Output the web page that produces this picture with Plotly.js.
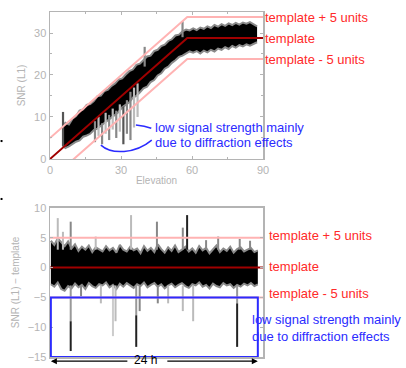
<!DOCTYPE html>
<html><head><meta charset="utf-8">
<script src="https://cdn.plot.ly/plotly-3.0.1.min.js"></script>
<style>html,body{margin:0;padding:0;background:#fff}#c{width:406px;height:368px}</style>
</head><body><div id="c"></div>
<script>
// ---------- top panel: SNR vs elevation ----------
const templateElev = [0, 58, 90];
const templateSNR = [0, 28.8, 28.8];
const templatePlus = [5, 33.8, 33.8];
const templateMinus = [-5, 23.8, 23.8];

const cloudElev = [5.5,6.5,8,9.5,11,12.5,14,15.5,17,18.5,20,21.5,23,24.5,26,27.5,29,30.5,32,33.5,35,36.5,38,39.5,41,42.5,44,45.5,47,48.5,50,51.5,53,54.5,56,57.5,59,60.5,62,63.5,65,66.5,68,69.5,71,72.5,74,75.5,77,78.5,80,81.5,83,84.5,86,87.5];
const cloudLo = [3.2,2.6,3.0,3.6,4.1,4.4,5.3,5.6,6.0,6.9,7.2,7.9,8.6,9.1,9.8,10.6,11.2,12.3,12.8,13.5,14.6,15.0,15.9,16.8,17.2,18.3,18.8,19.9,20.4,21.5,22.0,22.9,23.5,24.3,24.6,25.1,25.6,25.3,25.7,25.1,25.8,25.4,26.0,25.6,26.3,26.0,26.6,26.2,26.9,26.5,27.1,26.8,27.3,27.0,27.5,27.8];
const cloudHi = [7.9,8.6,8.2,9.6,10.2,11.5,11.8,12.9,13.1,13.8,14.9,15.1,16.2,16.5,17.4,18.0,18.9,19.2,20.1,20.9,21.3,22.4,22.7,23.6,24.4,24.6,25.7,26.0,26.9,27.2,28.1,28.5,29.4,29.6,30.4,30.8,30.6,31.1,30.7,31.3,31.0,31.6,31.2,31.9,31.5,32.1,31.7,32.3,31.9,32.4,32.0,32.5,32.2,32.6,32.1,31.6];

// scattered streaks (low signal / outliers): elevation, low, high, shade
const streakElev = [5.5,19,20.5,22,23.5,25,26.5,28,29.5,31,32.5,34,35.5,37,40,56];
const streakLo   = [3.0,4.0,5.5,3.5,6.0,4.5,7.0,5.0,6.5,3.5,6.0,4.5,7.5,10.0,22.0,29.0];
const streakHi   = [11.2,9.0,10.0,8.5,11.0,10.5,12.0,11.5,13.0,12.5,14.0,16.0,17.0,18.0,26.7,32.8];
const streakShade= ['#555','#888','#bbb','#888','#bbb','#888','#bbb','#888','#bbb','#555','#888','#888','#bbb','#bbb','#888','#888'];

// ---------- bottom panel: SNR - template vs time ----------
const timeH = [0,0.4,0.8,1.2,1.6,2,2.4,2.8,3.2,3.6,4,4.4,4.8,5.2,5.6,6,6.4,6.8,7.2,7.6,8,8.4,8.8,9.2,9.6,10,10.4,10.8,11.2,11.6,12,12.4,12.8,13.2,13.6,14,14.4,14.8,15.2,15.6,16,16.4,16.8,17.2,17.6,18,18.4,18.8,19.2,19.6,20,20.4,20.8,21.2,21.6,22,22.4,22.8,23.2,23.6,24];
const resHi = [4.5,3.8,4.9,4.2,3.6,4.4,3.2,3.9,2.8,3.5,3.0,3.7,2.6,3.4,3.1,2.7,3.6,2.9,3.3,2.5,3.8,3.0,2.7,3.5,2.9,3.2,2.4,3.6,2.8,3.3,2.6,3.9,3.1,2.5,3.4,2.8,3.7,2.6,3.0,3.5,2.7,3.2,2.5,3.6,2.9,3.3,2.4,3.0,3.7,2.6,3.2,2.8,3.5,2.5,3.1,3.4,2.7,3.0,3.3,2.6,2.9];
const resLo = [-2.8,-3.2,-2.5,-3.6,-3.9,-3.1,-3.5,-2.7,-3.3,-2.9,-3.6,-2.6,-3.1,-3.4,-2.8,-3.0,-2.5,-3.3,-2.9,-3.6,-2.7,-3.2,-2.6,-3.0,-3.4,-2.8,-3.1,-2.5,-3.3,-2.9,-2.6,-3.2,-2.8,-3.5,-3.0,-2.7,-3.3,-2.9,-2.6,-3.1,-3.4,-2.8,-3.0,-2.5,-3.2,-2.9,-3.5,-2.7,-3.1,-3.3,-2.6,-3.0,-2.8,-3.4,-2.9,-3.2,-2.7,-3.0,-2.6,-3.1,-2.8];

const spikeT  = [0.8,1.4,2.3,2.3,2.3,3.5,5.2,5.8,7.2,7.5,9.3,9.9,9.9,10.3,12.3,12.4,13.6,15.3,15.3,15.8,16.5,18.0,19.4,21.6,21.6,21.9,23.1];
const spikeLo = [3,3,3,-9,-14,-4.8,3,-6,-11.5,-9,3,-8,-13.3,-7.3,3,-6,-6,-7.3,3,3,-9,3,3,-6,-13.3,3,3];
const spikeHi = [8.3,6,7.7,-3,-9,-3,5.2,-3,-3,-3,8.8,-3,-8,-3,7.7,-3,-3,-3,6.7,8.8,-3,4.6,5.2,-3,-6,4.8,4.5];
const spikeShade = ['#bbb','#bbb','#888','#999','#222','#888','#bbb','#bbb','#ccc','#bbb','#bbb','#999','#222','#888','#888','#888','#bbb','#bbb','#888','#222','#bbb','#888','#888','#999','#222','#888','#888'];

const resTemplateLevels = [5, 0, -5];

const PINK = '#ffb3b3', DARKRED = '#a00000', RED = '#ff2a2a', BLUE = '#2b2bff', AX = '#b4b4b4', HALO = '#8a8a8a';

function segTraces(xs, lo, hi, shades, xa, ya, w) {
  return xs.map((x, i) => ({
    x: [x, x], y: [lo[i], hi[i]], xaxis: xa, yaxis: ya, mode: 'lines',
    line: {color: shades[i], width: w}, hoverinfo: 'skip', showlegend: false
  }));
}

const data = [];
// top cloud halo + core
data.push({x: cloudElev, y: cloudLo, mode: 'lines', line: {color: HALO, width: 2}, xaxis: 'x', yaxis: 'y', showlegend: false});
data.push({x: cloudElev, y: cloudHi, mode: 'lines', fill: 'tonexty', fillcolor: '#000', line: {color: HALO, width: 2}, xaxis: 'x', yaxis: 'y', showlegend: false});
data.push(...segTraces(streakElev, streakLo, streakHi, streakShade, 'x', 'y', 2.2));
// templates top
data.push({x: templateElev, y: templatePlus, mode: 'lines', line: {color: PINK, width: 2}, xaxis: 'x', yaxis: 'y', showlegend: false});
data.push({x: templateElev, y: templateMinus, mode: 'lines', line: {color: PINK, width: 2}, xaxis: 'x', yaxis: 'y', showlegend: false});
data.push({x: templateElev, y: templateSNR, mode: 'lines', line: {color: DARKRED, width: 2}, xaxis: 'x', yaxis: 'y', showlegend: false});

// bottom band
data.push({x: timeH, y: resLo, mode: 'lines', line: {color: HALO, width: 2}, xaxis: 'x2', yaxis: 'y2', showlegend: false});
data.push({x: timeH, y: resHi, mode: 'lines', fill: 'tonexty', fillcolor: '#000', line: {color: HALO, width: 2}, xaxis: 'x2', yaxis: 'y2', showlegend: false});
data.push(...segTraces(spikeT, spikeLo, spikeHi, spikeShade, 'x2', 'y2', 2));
resTemplateLevels.forEach(v => {
  data.push({x: [-0.1, 24.6], y: [v, v], mode: 'lines', xaxis: 'x2', yaxis: 'y2', showlegend: false,
    line: {color: v === 0 ? DARKRED : PINK, width: 2}});
});

const tickFont = {family: 'Liberation Sans, Arial, sans-serif', size: 11, color: AX};
const axBase = {showline: true, linecolor: AX, linewidth: 1.5, mirror: 'ticks', ticks: 'inside', ticklen: 3,
  tickcolor: AX, showgrid: false, zeroline: false, tickfont: tickFont, fixedrange: true};

const txt = (s, x, y, color, xref, yref) => ({text: s, x: x, y: y, xref: xref, yref: yref, showarrow: false,
  xanchor: 'left', yanchor: 'middle', font: {family: 'Liberation Sans, Arial, sans-serif', size: 13, color: color}});

const layout = {
  width: 406, height: 368, margin: {l: 50, r: 143, t: 12, b: 11},
  paper_bgcolor: '#fff', plot_bgcolor: '#fff', showlegend: false,
  xaxis: Object.assign({}, axBase, {domain: [0, 1], range: [0, 90], tickvals: [0, 30, 60, 90], anchor: 'y',
    minor: {dtick: 15, ticks: 'inside', ticklen: 2, tickcolor: AX},
    title: {text: 'Elevation', font: {family: 'Liberation Sans, Arial, sans-serif', size: 10, color: AX}, standoff: 2}}),
  yaxis: Object.assign({}, axBase, {domain: [0.574, 1], range: [0, 35], tickvals: [0, 10, 20, 30], anchor: 'x',
    minor: {dtick: 5, ticks: 'inside', ticklen: 2, tickcolor: AX},
    title: {text: 'SNR (L1)', font: {family: 'Liberation Sans, Arial, sans-serif', size: 10, color: AX}, standoff: 6}}),
  xaxis2: Object.assign({}, axBase, {domain: [0, 1], range: [-0.1, 24.6], anchor: 'y2', showticklabels: false, ticks: ''}),
  yaxis2: Object.assign({}, axBase, {domain: [0, 0.432], range: [-15, 10], anchor: 'x2',
    tickvals: [-15, -10, -5, 0, 5, 10], ticktext: ['\u221215', '\u221210', '\u22125', '0', '5', '10'],
    title: {text: 'SNR (L1) \u2212 template', font: {family: 'Liberation Sans, Arial, sans-serif', size: 10, color: AX}, standoff: 6}}),
  shapes: [
    {type: 'rect', xref: 'x2', yref: 'y2', x0: 0, x1: 24, y0: -5, y1: -15, line: {color: BLUE, width: 2}},
    {type: 'path', xref: 'x', yref: 'y', path: 'M 21.5 3.3 C 26 1.0, 36 1.2, 43 4.5', line: {color: BLUE, width: 1.5}},
    {type: 'path', xref: 'x', yref: 'y', path: 'M 36.3 8.1 Q 40 7.9, 42.8 7.3', line: {color: BLUE, width: 1.5}},
    {type: 'rect', xref: 'paper', yref: 'paper', x0: -0.232, x1: -0.223, y0: 0.623, y1: 0.629, fillcolor: '#000', line: {width: 0}},
    {type: 'rect', xref: 'paper', yref: 'paper', x0: -0.232, x1: -0.223, y0: 0.455, y1: 0.461, fillcolor: '#000', line: {width: 0}}
  ],
  annotations: [
    txt('template + 5 units', 1.0, 33.8, RED, 'paper', 'y'),
    txt('template', 1.0, 28.8, RED, 'paper', 'y'),
    txt('template - 5 units', 1.0, 23.8, RED, 'paper', 'y'),
    txt('template + 5 units', 1.019, 5.4, RED, 'paper', 'y2'),
    txt('template', 1.019, 0.2, RED, 'paper', 'y2'),
    txt('template - 5 units', 1.019, -4.4, RED, 'paper', 'y2'),
    txt('low signal strength mainly', 43.5, 7.6, BLUE, 'x', 'y'),
    txt('due to diffraction effects', 43.5, 4.0, BLUE, 'x', 'y'),
    txt('low signal strength mainly', 0.939, -8.7, BLUE, 'paper', 'y2'),
    txt('due to diffraction effects', 0.939, -11.6, BLUE, 'paper', 'y2'),
    {text: '24 h', xref: 'x2', yref: 'paper', x: 11, y: -0.01, showarrow: false, xanchor: 'center', yanchor: 'middle',
      font: {family: 'Liberation Sans, Arial, sans-serif', size: 12, color: '#000'}},
    {text: '', xref: 'x2', yref: 'paper', x: 0, y: -0.012, showarrow: true, ax: 78, ay: 0, arrowhead: 2, arrowsize: 1, arrowwidth: 1.2, arrowcolor: '#000'},
    {text: '', xref: 'x2', yref: 'paper', x: 24, y: -0.012, showarrow: true, ax: -92, ay: 0, arrowhead: 2, arrowsize: 1, arrowwidth: 1.2, arrowcolor: '#000'}
  ]
};

Plotly.newPlot('c', data, layout, {displayModeBar: false, staticPlot: true});
</script></body></html>
